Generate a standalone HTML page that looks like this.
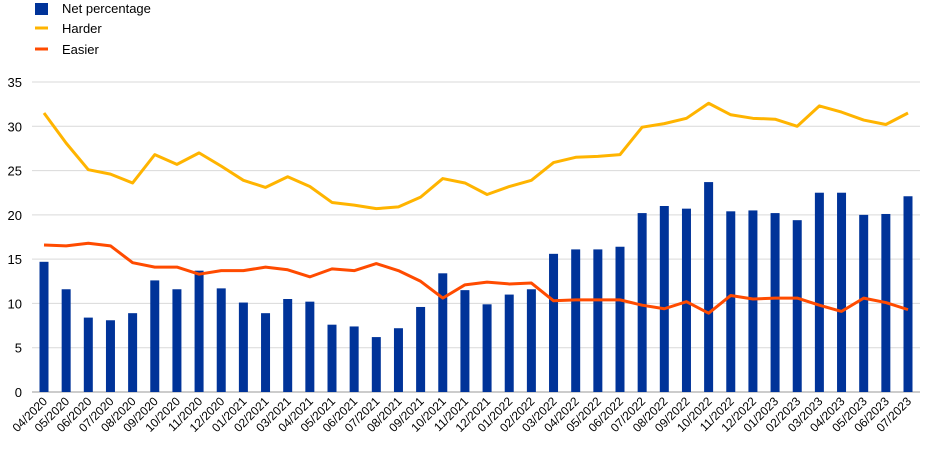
<!DOCTYPE html>
<html><head><meta charset="utf-8"><style>
body{margin:0;background:#fff;font-family:"Liberation Sans",Arial,sans-serif;}
</style></head><body>
<svg id="c" width="943" height="449" xmlns="http://www.w3.org/2000/svg" font-family="Liberation Sans, Arial, sans-serif"></svg>
<script>
const categories=["04/2020","05/2020","06/2020","07/2020","08/2020","09/2020","10/2020","11/2020","12/2020","01/2021","02/2021","03/2021","04/2021","05/2021","06/2021","07/2021","08/2021","09/2021","10/2021","11/2021","12/2021","01/2022","02/2022","03/2022","04/2022","05/2022","06/2022","07/2022","08/2022","09/2022","10/2022","11/2022","12/2022","01/2023","02/2023","03/2023","04/2023","05/2023","06/2023","07/2023"];
const netValues=[14.7,11.6,8.4,8.1,8.9,12.6,11.6,13.7,11.7,10.1,8.9,10.5,10.2,7.6,7.4,6.2,7.2,9.6,13.4,11.5,9.9,11.0,11.6,15.6,16.1,16.1,16.4,20.2,21.0,20.7,23.7,20.4,20.5,20.2,19.4,22.5,22.5,20.0,20.1,22.1];
const harderValues=[31.5,28.1,25.1,24.6,23.6,26.8,25.7,27.0,25.5,23.9,23.1,24.3,23.2,21.4,21.1,20.7,20.9,22.0,24.1,23.6,22.3,23.2,23.9,25.9,26.5,26.6,26.8,29.9,30.3,30.9,32.6,31.3,30.9,30.8,30.0,32.3,31.6,30.7,30.2,31.5];
const easierValues=[16.6,16.5,16.8,16.5,14.6,14.1,14.1,13.3,13.7,13.7,14.1,13.8,13.0,13.9,13.7,14.5,13.7,12.5,10.6,12.1,12.4,12.2,12.3,10.3,10.4,10.4,10.4,9.8,9.4,10.2,8.9,10.9,10.5,10.6,10.6,9.8,9.1,10.6,10.1,9.3];
const yTicks=[0,5,10,15,20,25,30,35];

const svg=document.getElementById('c');
const NS='http://www.w3.org/2000/svg';
const y0=392,y1=82,yMax=35,x0=44,step=(908-44)/39;
const Y=v=>y0-(v/yMax)*(y0-y1);
const X=i=>x0+i*step;
function mk(t,a,p){const e=document.createElementNS(NS,t);for(const k in a)e.setAttribute(k,a[k]);(p||svg).appendChild(e);return e;}

const grid=mk('g',{});


yTicks.forEach(t=>{
  const l=mk('line',{x1:32,x2:920,y1:Y(t),y2:Y(t),stroke:t===0?'#999':'#d9d9d9','stroke-width':1},grid);
  
  
  const tx=mk('text',{x:22,y:Y(t)+5,'text-anchor':'end','font-size':13,fill:'#000'});
  tx.textContent=t;
  
  
});
netValues.forEach((v,i)=>{
  const r=mk('rect',{x:X(i)-4.5,y:Y(v),width:9,height:y0-Y(v),fill:'#003399'});
  
  
});
function line(vals,col,name){
  const p=mk('polyline',{points:vals.map((v,i)=>X(i)+','+Y(v)).join(' '),fill:'none',stroke:col,'stroke-width':3,'stroke-linejoin':'round'});
  
  
}
line(harderValues,'#ffb400','harder-line');
line(easierValues,'#ff4b00','easier-line');
categories.forEach((c,i)=>{
  const t=mk('text',{x:X(i)+4,y:402,'text-anchor':'end','font-size':12,fill:'#000',transform:`rotate(-45 ${X(i)+4} 402)`});
  t.textContent=c;
  
  
});
// legend
const lg=mk('g',{});


const lr=mk('rect',{x:35,y:3,width:13,height:12,fill:'#003399'},lg);


const l1=mk('line',{x1:35,x2:48,y1:28,y2:28,stroke:'#ffb400','stroke-width':3},lg);


const l2=mk('line',{x1:35,x2:48,y1:49,y2:49,stroke:'#ff4b00','stroke-width':3},lg);


[['Net percentage',13],['Harder',33],['Easier',54]].forEach(([s,y])=>{
  const t=mk('text',{x:62,y:y,'font-size':13,fill:'#000'},lg);
  t.textContent=s;
  
  
});
</script>
</body></html>
